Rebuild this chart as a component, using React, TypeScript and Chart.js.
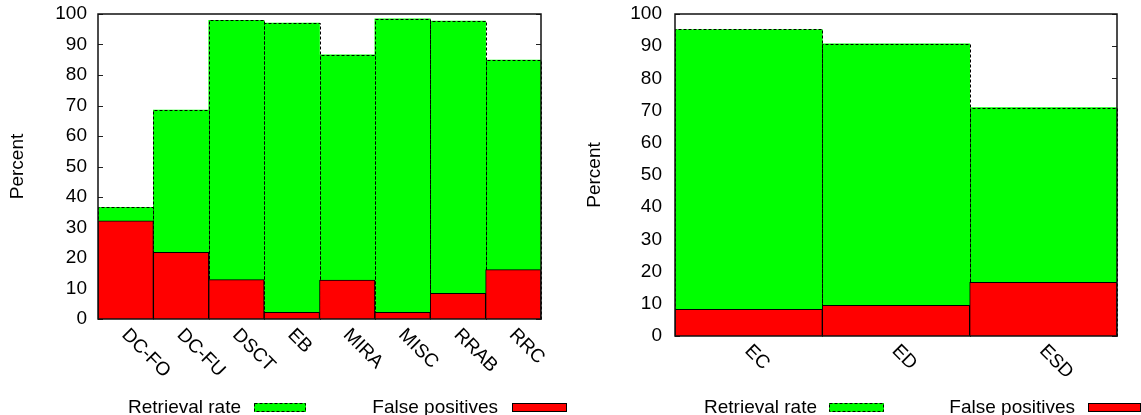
import React, { useEffect, useRef } from 'react';
import { Chart, registerables } from 'chart.js';

Chart.register(...registerables);

// ---- Data ----
const leftCategories = ['DC-FO', 'DC-FU', 'DSCT', 'EB', 'MIRA', 'MISC', 'RRAB', 'RRC'];
const leftRetrieval = [36.6, 68.5, 97.9, 97.0, 86.6, 98.4, 97.7, 84.9];
const leftFalsePositives = [32.2, 21.9, 12.9, 2.2, 12.8, 2.2, 8.4, 16.2];

const rightCategories = ['EC', 'ED', 'ESD'];
const rightRetrieval = [95.2, 90.7, 70.9];
const rightFalsePositives = [8.3, 9.5, 16.7];

const yTicks = [0, 10, 20, 30, 40, 50, 60, 70, 80, 90, 100];
const seriesNames = ['Retrieval rate', 'False positives'];

const FONT = '"Liberation Sans", Arial, Helvetica, sans-serif';
const FS = 19;
const GREEN = '#00ff00';
const RED = '#ff0000';

type Layout = {
  width: number;
  height: number;
  axisWidth: number;
  padRight: number;
  xAxisHeight: number;
  tickPad: number;
  titlePad: number;
  labelDx: number;
  labelDy: number;
  legend: { textRight: number; boxLeft: number; boxRight: number }[];
};

function makeConfig(categories: string[], retrieval: number[], falsePos: number[], L: Layout): any {
  const custom = {
    id: 'gnuplotStyle',
    beforeDatasetsDraw(chart: any) {
      const { ctx, chartArea } = chart;
      const y = chart.scales.y;
      ctx.save();
      ctx.strokeStyle = '#222';
      ctx.lineWidth = 1;
      for (const v of yTicks) {
        const py = Math.round(y.getPixelForValue(v)) + 0.5;
        ctx.beginPath();
        ctx.moveTo(chartArea.left, py);
        ctx.lineTo(chartArea.left + 5, py);
        ctx.moveTo(chartArea.right, py);
        ctx.lineTo(chartArea.right - 5, py);
        ctx.stroke();
      }
      ctx.restore();
    },
    afterDatasetDraw(chart: any, args: any) {
      if (args.index !== 0) return;
      const { ctx } = chart;
      const meta = chart.getDatasetMeta(0);
      ctx.save();
      ctx.strokeStyle = '#000';
      ctx.lineWidth = 1;
      ctx.setLineDash([3, 2]);
      for (const el of meta.data) {
        const p = el.getProps(['x', 'y', 'base', 'width'], true);
        const x0 = Math.round(p.x - p.width / 2) + 0.5;
        const x1 = Math.round(p.x + p.width / 2) + 0.5;
        const y0 = Math.round(p.y) + 0.5;
        const yb = Math.round(p.base) + 0.5;
        ctx.beginPath();
        ctx.moveTo(x0, yb);
        ctx.lineTo(x0, y0);
        ctx.lineTo(x1, y0);
        ctx.lineTo(x1, yb);
        ctx.stroke();
      }
      ctx.restore();
    },
    afterDatasetsDraw(chart: any) {
      const { ctx, chartArea } = chart;
      ctx.save();
      ctx.strokeStyle = '#111';
      ctx.lineWidth = 1.5;
      ctx.strokeRect(chartArea.left, chartArea.top, chartArea.right - chartArea.left, chartArea.bottom - chartArea.top);
      ctx.restore();
    },
    afterDraw(chart: any) {
      const { ctx, chartArea } = chart;
      const xs = chart.scales.x;
      ctx.save();
      ctx.fillStyle = '#000';
      ctx.font = `${FS}px ${FONT}`;
      // rotated category labels
      categories.forEach((c, i) => {
        const px = xs.getPixelForValue(i);
        ctx.save();
        ctx.translate(px + L.labelDx, chartArea.bottom + L.labelDy);
        ctx.rotate(Math.PI / 4);
        ctx.textAlign = 'left';
        ctx.textBaseline = 'middle';
        ctx.fillText(c, 0, 0);
        ctx.restore();
      });
      // legend
      const baseline = 413;
      const boxTop = 403;
      const boxH = 9;
      L.legend.forEach((lg, i) => {
        ctx.textAlign = 'right';
        ctx.textBaseline = 'alphabetic';
        ctx.fillStyle = '#000';
        ctx.fillText(seriesNames[i], lg.textRight, baseline);
        ctx.fillStyle = i === 0 ? GREEN : RED;
        ctx.fillRect(lg.boxLeft, boxTop, lg.boxRight - lg.boxLeft, boxH);
        ctx.strokeStyle = '#000';
        ctx.lineWidth = 1;
        ctx.setLineDash(i === 0 ? [3, 2] : []);
        ctx.strokeRect(lg.boxLeft + 0.5, boxTop + 0.5, lg.boxRight - lg.boxLeft - 1, boxH - 1);
        ctx.setLineDash([]);
      });
      ctx.restore();
    },
  };

  return {
    type: 'bar',
    data: {
      labels: categories,
      datasets: [
        {
          label: seriesNames[0],
          data: retrieval,
          backgroundColor: GREEN,
          borderWidth: 0,
          order: 2,
          grouped: false,
          barPercentage: 1,
          categoryPercentage: 1,
        },
        {
          label: seriesNames[1],
          data: falsePos,
          backgroundColor: RED,
          borderColor: '#000',
          borderWidth: 1,
          order: 1,
          grouped: false,
          barPercentage: 1,
          categoryPercentage: 1,
        },
      ],
    },
    options: {
      responsive: false,
      animation: false,
      devicePixelRatio: 1,
      layout: { padding: { left: 0, right: L.padRight, top: 14, bottom: 0 } },
      plugins: {
        legend: { display: false },
        tooltip: { enabled: false },
      },
      scales: {
        x: {
          type: 'category',
          grid: { display: false, drawTicks: false },
          border: { display: false },
          ticks: { display: false },
          afterFit: (s: any) => {
            s.height = L.xAxisHeight;
            s.paddingLeft = 0;
            s.paddingRight = 0;
          },
        },
        y: {
          min: 0,
          max: 100,
          grid: { display: false, drawTicks: false },
          border: { display: false },
          ticks: {
            stepSize: 10,
            padding: L.tickPad,
            color: '#000',
            font: { family: FONT, size: FS },
          },
          title: {
            display: true,
            text: 'Percent',
            color: '#000',
            font: { family: FONT, size: FS },
            padding: { top: L.titlePad, bottom: 0 },
          },
          afterFit: (s: any) => {
            s.width = L.axisWidth;
            s.paddingTop = 0;
            s.paddingBottom = 0;
          },
        },
      },
    },
    plugins: [custom],
  };
}

function BarPanel(props: { categories: string[]; retrieval: number[]; falsePos: number[]; layout: Layout }) {
  const ref = useRef<HTMLCanvasElement | null>(null);
  useEffect(() => {
    if (!ref.current) return;
    const chart = new Chart(ref.current, makeConfig(props.categories, props.retrieval, props.falsePos, props.layout));
    return () => chart.destroy();
  }, []);
  return (
    <canvas
      ref={ref}
      width={props.layout.width}
      height={props.layout.height}
      style={{ display: 'block', width: props.layout.width, height: props.layout.height }}
    />
  );
}

const leftLayout: Layout = {
  width: 570,
  height: 415,
  axisWidth: 98,
  padRight: 29,
  xAxisHeight: 96,
  tickPad: 11,
  titlePad: 6,
  labelDx: -1,
  labelDy: 13,
  legend: [
    { textRight: 241, boxLeft: 254, boxRight: 306 },
    { textRight: 498, boxLeft: 512, boxRight: 567 },
  ],
};

const rightLayout: Layout = {
  width: 571,
  height: 415,
  axisWidth: 105,
  padRight: 24,
  xAxisHeight: 79,
  tickPad: 13,
  titlePad: 13,
  labelDx: -1,
  labelDy: 12,
  legend: [
    { textRight: 247, boxLeft: 259, boxRight: 314 },
    { textRight: 505, boxLeft: 518, boxRight: 571 },
  ],
};

export default function App() {
  return (
    <div style={{ position: 'absolute', left: 0, top: 0, width: 1141, height: 415, background: '#fff', overflow: 'hidden' }}>
      <div style={{ position: 'absolute', left: 0, top: 0 }}>
        <BarPanel categories={leftCategories} retrieval={leftRetrieval} falsePos={leftFalsePositives} layout={leftLayout} />
      </div>
      <div style={{ position: 'absolute', left: 570, top: 0 }}>
        <BarPanel categories={rightCategories} retrieval={rightRetrieval} falsePos={rightFalsePositives} layout={rightLayout} />
      </div>
    </div>
  );
}
